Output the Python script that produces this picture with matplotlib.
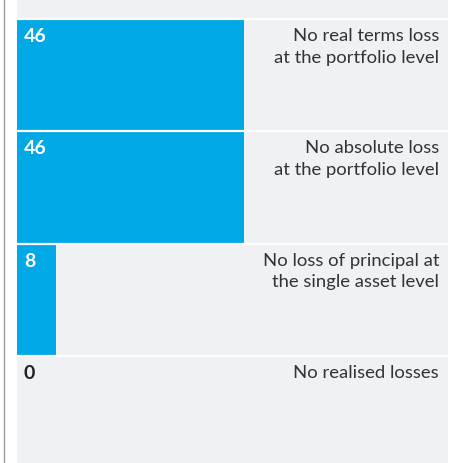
import matplotlib.pyplot as plt
import matplotlib.transforms as mtransforms

plt.rcParams['font.family'] = ['Lato', 'DejaVu Sans']

# survey answers: share of respondents (%)
categories = [
    "No real terms loss\nat the portfolio level",
    "No absolute loss\nat the portfolio level",
    "No loss of principal at\nthe single asset level",
    "No realised losses",
]
values = [46, 46, 8, 0]

bar_color = "#00a9e6"
panel_color = "#f0f1f3"
text_color = "#333333"

W, H = 461, 464
fig = plt.figure(figsize=(W / 100, H / 100), dpi=100)
fig.patch.set_facecolor("white")

# thin rule down the left margin
fig.add_artist(plt.Line2D([3.5 / W, 3.5 / W], [0, 1], color="#9a9a9a", lw=1.0))

ax = fig.add_axes([17 / W, 0, (448 - 17) / W, 1])
ax.set_facecolor(panel_color)

row_px = 112.3
top_px = 20
ax.set_xlim(0, 46 * 431 / 227)
ax.set_ylim((H - top_px) / row_px, -top_px / row_px)

trans = mtransforms.blended_transform_factory(ax.transAxes, ax.transData)
for i, (cat, v) in enumerate(zip(categories, values)):
    ax.barh(i, v, height=1, align="edge", color=bar_color, linewidth=0)
    num_color = "white" if v > 0 else "#222222"
    ax.annotate(str(v), xy=(0, i), xytext=(7, -8), textcoords="offset pixels",
                ha="left", va="top", fontsize=14, fontweight="bold",
                color=num_color)
    ax.annotate(cat, xy=(1, i), xycoords=trans, xytext=(-9, -8),
                textcoords="offset pixels", ha="right", va="top",
                fontsize=13.3, color=text_color, linespacing=1.45)

# white separators between rows
for i in range(len(categories)):
    ax.axhline(i, color="white", lw=1.6)

ax.set_xticks([])
ax.set_yticks([])
for s in ax.spines.values():
    s.set_visible(False)

fig.savefig("out.png", dpi=100, facecolor="white")
